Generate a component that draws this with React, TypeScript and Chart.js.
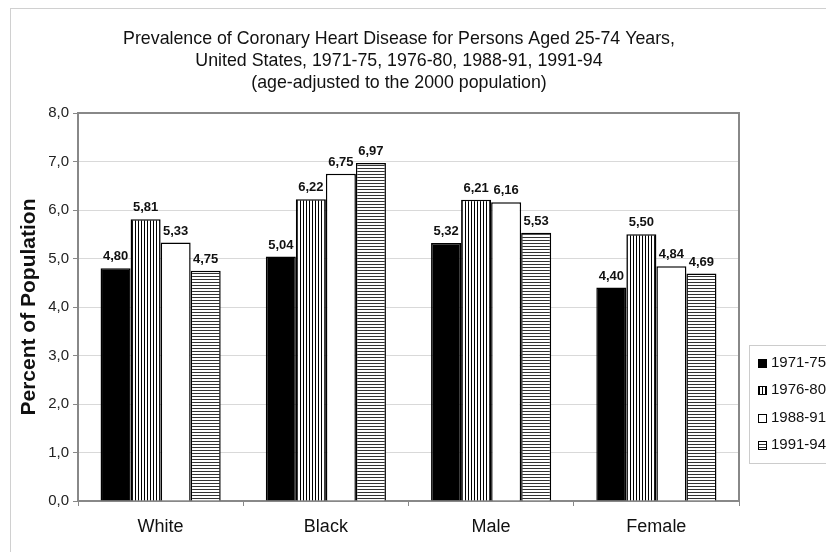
import React, { useEffect, useRef } from 'react';
import { Chart, registerables } from 'chart.js';

Chart.register(...registerables);

const categories = ['White', 'Black', 'Male', 'Female'];
const seriesLabels = ['1971-75', '1976-80', '1988-91', '1991-94'];
const values1971 = [4.8, 5.04, 5.32, 4.4];
const values1976 = [5.81, 6.22, 6.21, 5.5];
const values1988 = [5.33, 6.75, 6.16, 4.84];
const values1991 = [4.75, 6.97, 5.53, 4.69];
const titleLines = [
  'Prevalence of Coronary Heart Disease for Persons Aged 25-74 Years,',
  'United States, 1971-75, 1976-80, 1988-91, 1991-94',
  '(age-adjusted to the 2000 population)',
];
const yAxisTitle = 'Percent of Population';
const yMin = 0;
const yMax = 8;
const yStep = 1;

const FONT = '"Liberation Sans", Arial, sans-serif';

function fmt(v: number, d: number) {
  return v.toFixed(d).replace('.', ',');
}

function makePattern(kind: 'v' | 'h'): CanvasPattern {
  const c = document.createElement('canvas');
  c.width = 3;
  c.height = 3;
  const ctx = c.getContext('2d') as CanvasRenderingContext2D;
  ctx.fillStyle = '#ffffff';
  ctx.fillRect(0, 0, 3, 3);
  if (kind === 'v') {
    ctx.fillStyle = '#000000';
    ctx.fillRect(0, 0, 1, 3);
  } else {
    ctx.fillStyle = '#333333';
    ctx.fillRect(0, 0, 3, 1);
  }
  return ctx.createPattern(c, 'repeat') as CanvasPattern;
}

const decorPlugin = {
  id: 'decor',
  beforeDraw(chart: any) {
    const ctx = chart.ctx as CanvasRenderingContext2D;
    ctx.save();
    ctx.fillStyle = '#ffffff';
    ctx.fillRect(0, 0, chart.width, chart.height);
    ctx.strokeStyle = '#d0d0d0';
    ctx.lineWidth = 1;
    ctx.strokeRect(10.5, 8.5, chart.width + 20, chart.height + 20);
    ctx.fillStyle = '#111111';
    ctx.font = `17.8px ${FONT}`;
    ctx.textAlign = 'center';
    ctx.textBaseline = 'middle';
    titleLines.forEach((t, i) => ctx.fillText(t, 399, 39 + i * 22));
    ctx.restore();
  },
  beforeDatasetsDraw(chart: any) {
    const ctx = chart.ctx as CanvasRenderingContext2D;
    const { left, right, top, bottom } = chart.chartArea;
    ctx.save();
    ctx.strokeStyle = '#888888';
    ctx.lineWidth = 2;
    ctx.beginPath();
    ctx.moveTo(left, top);
    ctx.lineTo(right, top);
    ctx.lineTo(right, bottom);
    ctx.stroke();
    ctx.restore();
  },
  afterDatasetsDraw(chart: any) {
    const ctx = chart.ctx as CanvasRenderingContext2D;
    ctx.save();
    ctx.fillStyle = '#111111';
    ctx.font = `bold 13px ${FONT}`;
    ctx.textAlign = 'center';
    ctx.textBaseline = 'bottom';
    chart.data.datasets.forEach((ds: any, di: number) => {
      const meta = chart.getDatasetMeta(di);
      meta.data.forEach((el: any, i: number) => {
        ctx.fillText(fmt(ds.data[i], 2), el.x, el.y - 5);
      });
    });
    ctx.restore();
  },
  afterDraw(chart: any) {
    const ctx = chart.ctx as CanvasRenderingContext2D;
    ctx.save();
    const bx = 749.5;
    const by = 345.5;
    const bh = 118;
    ctx.fillStyle = '#ffffff';
    ctx.fillRect(bx, by, 100, bh);
    ctx.strokeStyle = '#cccccc';
    ctx.lineWidth = 1;
    ctx.strokeRect(bx, by, 100, bh);
    ctx.font = `15px ${FONT}`;
    ctx.textAlign = 'left';
    ctx.textBaseline = 'middle';
    chart.data.datasets.forEach((ds: any, i: number) => {
      const cy = 363 + i * 27.3;
      ctx.fillStyle = ds.backgroundColor;
      ctx.fillRect(758, Math.round(cy) - 4, 9, 9);
      ctx.strokeStyle = '#000000';
      ctx.strokeRect(758.5, Math.round(cy) - 3.5, 8, 8);
      ctx.fillStyle = '#111111';
      ctx.fillText(ds.label, 771, cy);
    });
    ctx.restore();
  },
};

export default function App() {
  const ref = useRef<HTMLCanvasElement | null>(null);
  useEffect(() => {
    if (!ref.current) return;
    const vPat = makePattern('v');
    const hPat = makePattern('h');
    const fills = ['#000000', vPat, '#ffffff', hPat];
    const series = [values1971, values1976, values1988, values1991];
    const chart = new Chart(ref.current, {
      type: 'bar',
      data: {
        labels: categories,
        datasets: series.map((vals, i) => ({
          label: seriesLabels[i],
          data: vals,
          backgroundColor: fills[i] as any,
          borderColor: '#000000',
          borderWidth: 1.5,
          barPercentage: 1,
          categoryPercentage: 0.727,
        })),
      },
      options: {
        animation: false,
        responsive: true,
        maintainAspectRatio: false,
        layout: { padding: { top: 113, right: 87, bottom: 0, left: 0 } },
        plugins: {
          legend: { display: false },
          title: { display: false },
          tooltip: { enabled: false },
        },
        scales: {
          x: {
            afterFit: (s: any) => {
              s.height = 51;
            },
            grid: {
              display: true,
              drawOnChartArea: false,
              drawTicks: true,
              tickLength: 5,
              tickColor: '#888888',
              offset: true,
            },
            border: { display: true, color: '#888888', width: 2 },
            ticks: {
              color: '#111111',
              font: { family: FONT, size: 18 },
              padding: 10,
            },
          },
          y: {
            min: yMin,
            max: yMax,
            afterFit: (s: any) => {
              s.width = 78;
            },
            ticks: {
              stepSize: yStep,
              color: '#222222',
              font: { family: FONT, size: 15 },
              padding: 4,
              callback: (v: any) => fmt(Number(v), 1),
            },
            grid: {
              color: '#d9d9d9',
              lineWidth: 1,
              tickColor: '#888888',
              tickLength: 5,
            },
            border: { display: true, color: '#888888', width: 2 },
            title: {
              display: true,
              text: yAxisTitle,
              color: '#111111',
              font: { family: FONT, size: 21, weight: 'bold' },
              padding: { top: 17, bottom: 0 },
            },
          },
        },
      },
      plugins: [decorPlugin],
    });
    return () => chart.destroy();
  }, []);
  return (
    <div style={{ position: 'absolute', left: 0, top: 0, width: 826, height: 552 }}>
      <canvas ref={ref} />
    </div>
  );
}
